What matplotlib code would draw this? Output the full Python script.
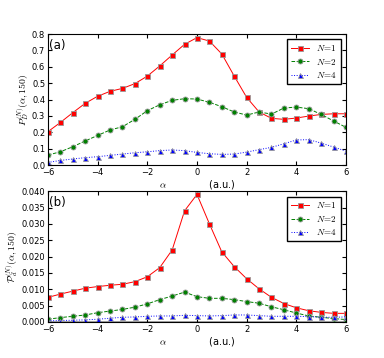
import numpy as np
import matplotlib
matplotlib.use('Agg')
import matplotlib.pyplot as plt

plt.rcParams['mathtext.fontset'] = 'cm'
plt.rcParams['font.size'] = 6
plt.rcParams['xtick.direction'] = 'in'
plt.rcParams['ytick.direction'] = 'in'
plt.rcParams['xtick.top'] = True
plt.rcParams['ytick.right'] = True

alpha = np.arange(-6, 6.01, 0.5)

# panel (a): P_D^(N)(alpha, 150)
pD_n1 = [0.204, 0.26, 0.32, 0.377, 0.42, 0.45, 0.468, 0.497, 0.543, 0.605, 0.672, 0.737, 0.778,
         0.757, 0.678, 0.543, 0.413, 0.324, 0.285, 0.279, 0.287, 0.299, 0.309, 0.313, 0.313]
pD_n2 = [0.061, 0.081, 0.112, 0.147, 0.181, 0.214, 0.234, 0.279, 0.332, 0.368, 0.395, 0.405, 0.403,
         0.383, 0.356, 0.324, 0.305, 0.324, 0.311, 0.348, 0.354, 0.344, 0.309, 0.269, 0.23]
pD_n4 = [0.016, 0.028, 0.037, 0.045, 0.051, 0.059, 0.067, 0.075, 0.081, 0.088, 0.092, 0.088, 0.077,
         0.069, 0.065, 0.067, 0.079, 0.094, 0.108, 0.13, 0.153, 0.155, 0.134, 0.11, 0.085]

# panel (b): P_d^(N)(alpha, 150)
pd_n1 = [0.0075, 0.0085, 0.0094, 0.0103, 0.0108, 0.0112, 0.0115, 0.0123, 0.0138, 0.0166, 0.022, 0.034, 0.039,
         0.030, 0.0214, 0.0169, 0.0132, 0.0101, 0.0075, 0.0056, 0.0043, 0.0034, 0.0029, 0.0026, 0.0026]
pd_n2 = [0.0008, 0.0013, 0.0017, 0.0021, 0.0028, 0.0033, 0.0038, 0.0045, 0.0055, 0.0068, 0.0079, 0.0091, 0.0077,
         0.0072, 0.0072, 0.0068, 0.0062, 0.0057, 0.0046, 0.0037, 0.0027, 0.0018, 0.0014, 0.001, 0.0007]
pd_n4 = [0.0003, 0.0004, 0.0005, 0.0006, 0.0008, 0.0011, 0.0014, 0.0015, 0.0017, 0.0018, 0.0018, 0.002, 0.0019,
         0.0018, 0.0019, 0.0021, 0.0021, 0.0019, 0.0017, 0.0017, 0.0017, 0.0016, 0.0014, 0.0014, 0.0015]

labels = [r'$N\!=\!1$', r'$N\!=\!2$', r'$N\!=\!4$']
styles = [dict(color='red', ls='-', marker='s'),
          dict(color='green', ls='--', marker='o'),
          dict(color='blue', ls=':', marker='^')]

fig = plt.figure(figsize=(3.84, 3.58), dpi=100)
ax1 = fig.add_axes([0.125, 0.539, 0.776, 0.366])
ax2 = fig.add_axes([0.125, 0.101, 0.776, 0.365])

xlab = r'$\alpha$' + '              (a.u.)'

for ax, series, ylab, tag, ylim in [
        (ax1, [pD_n1, pD_n2, pD_n4], r'$P_D^{(N)}(\alpha,150)$', '(a)', (0, 0.8)),
        (ax2, [pd_n1, pd_n2, pd_n4], r'$\mathcal{P}_d^{(N)}(\alpha,150)$', '(b)', (0, 0.04))]:
    for ys, lab, st in zip(series, labels, styles):
        ax.plot(alpha, ys, label=lab, lw=0.7, ms=3.6, mec='0.6', mew=0.6, **st)
    ax.set_xlim(-6, 6)
    ax.set_ylim(*ylim)
    ax.set_xticks([-6, -4, -2, 0, 2, 4, 6])
    ax.set_xlabel(xlab, fontsize=7, labelpad=1)
    ax.set_ylabel(ylab, fontsize=7, labelpad=1)
    ax.text(0.003, 0.965, tag, transform=ax.transAxes, fontsize=8.5, va='top', ha='left')
    leg = ax.legend(loc='upper right', fontsize=6.5, fancybox=False, framealpha=1,
                    handlelength=2.0, borderaxespad=0.6, labelspacing=0.4, handletextpad=0.8)
    leg.get_frame().set_edgecolor('black')
    ax.tick_params(length=3, pad=2, labelsize=6)

ax1.set_yticks(np.arange(0, 0.81, 0.1))
ax2.set_yticks(np.arange(0, 0.0401, 0.005))
ax2.yaxis.set_major_formatter(matplotlib.ticker.FormatStrFormatter('%.3f'))
ax2.axhline(0, color='0.6', lw=2, zorder=1)

fig.savefig('out.png', dpi=100)
